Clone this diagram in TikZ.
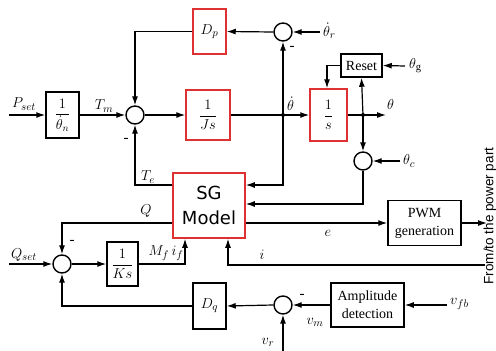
\documentclass[tikz,border=0pt]{standalone}
\usepackage{fontspec}
\setmainfont{Liberation Serif}
\newfontfamily\sgfont{DejaVu Sans}
\newfontfamily\lsans{Liberation Sans}
\usetikzlibrary{arrows.meta,calc}
\definecolor{sgred}{RGB}{222,50,50}
\begin{document}
\begin{tikzpicture}[x=1pt,y=-1pt,
  txt/.style={font=\fontsize{14}{18}\selectfont},
  lbl/.style={font=\fontsize{15}{18}\selectfont, inner sep=0pt},
  blk/.style n args={2}{draw, line width=1.5pt, minimum width=#1pt, minimum height=#2pt, inner sep=0pt, txt, align=center},
  redblk/.style n args={2}{blk={#1}{#2}, draw=sgred},
  sum/.style={circle, draw, line width=1.4pt, minimum size=18pt, inner sep=0pt},
  arr/.style={-{Latex[length=9pt,width=6pt]}, line width=1.2pt},
  jdot/.style={circle, fill, inner sep=0pt, minimum size=4pt}]
\useasboundingbox (0,0) rectangle (496,351);
% blocks
\node[blk={33}{46}] (thn) at (62.5,115) {$\displaystyle\frac{1}{\dot\theta_n}$};
\node[sum] (s1) at (135,115) {};
\node[redblk={33}{45}, font=\fontsize{15}{18}\selectfont] (Dp) at (209.5,31.5) {$D_p$};
\node[redblk={44}{50}] (Js) at (208,115) {$\displaystyle\frac{1}{Js}$};
\node[sum] (s2) at (283,32) {};
\node[redblk={37}{52}] (S) at (328.5,115) {$\displaystyle\frac{1}{s}$};
\node[blk={41}{23}] (reset) at (361.5,65.5) {Reset};
\node[sum] (s3) at (363,161) {};
\node[redblk={72}{65}, font=\sgfont\fontsize{18}{25}\selectfont] (SG) at (209,205.5) {SG\\Model};
\node[blk={73}{45}] (pwm) at (424.5,223) {PWM\\generation};
\node[sum] (s4) at (62,264) {};
\node[blk={31}{44}] (Ks) at (122.5,264) {$\displaystyle\frac{1}{Ks}$};
\node[blk={33}{46}, font=\fontsize{15}{18}\selectfont] (Dq) at (209.5,306) {$D_q$};
\node[sum] (s5) at (283,305) {};
\node[blk={73}{44}] (amp) at (367.5,305) {Amplitude\\detection};
% junctions and free ends
\node[jdot] (j1) at (283,115) {};
\node[jdot] (j2) at (363,115) {};
\coordinate (psetin) at (9,115);
\coordinate (thout) at (386,115);
\coordinate (thgin) at (405,66);
\coordinate (thcin) at (400,161);
\coordinate (thrin) at (320,32);
\coordinate (qsetin) at (9,264);
\coordinate (iin) at (485,265);
\coordinate (pwmout) at (487,223);
\coordinate (vfbin) at (447,305);
\coordinate (vrin) at (283,351);
% connectors
\draw[arr] (psetin) -- (thn.west);
\draw[arr] (thn.east) -- (s1.west);
\draw[arr] (s1.east) -- (Js.west);
\draw[arr] (Js.east) -- (S.west);
\draw[arr] (S.east) -- (thout);
\draw[arr] (j2.center) -- (reset.south);
\draw[arr] (j2.center) -- (s3.north);
\draw[arr] (thgin) -- (reset.east);
\draw[arr] (reset.west) -| ([xshift=-1.5pt]S.north);
\draw[arr] (thcin) -- (s3.east);
\draw[arr] (s3.south) |- ([yshift=1.5pt]SG.east);
\draw[arr] (j1.center) -- (s2.south);
\draw[arr] (j1.center) |- ([yshift=20.5pt]SG.east);
\draw[arr] (thrin) -- (s2.east);
\draw[arr] (s2.west) -- (Dp.east);
\draw[arr] (Dp.west) -| (s1.north);
\draw[arr] ([yshift=20.5pt]SG.west) -| (s1.south);
\draw[arr] ([yshift=-17.5pt]SG.west) -| (s4.north);
\draw[arr] (qsetin) -- (s4.west);
\draw[arr] (s4.east) -- (Ks.west);
\draw[arr] (Ks.east) -| ([xshift=-24pt]SG.south);
\draw[arr] (iin) -| ([xshift=19pt]SG.south);
\draw[arr] ([yshift=-17.5pt]SG.east) -- (pwm.west);
\draw[arr] (pwm.east) -- (pwmout);
\draw[arr] (vfbin) -- (amp.east);
\draw[arr] (amp.west) -- (s5.east);
\draw[arr] (vrin) -- (s5.south);
\draw[arr] (s5.west) -- (Dq.east);
\draw[arr] (Dq.west) -| (s4.south);
% labels
\node[lbl] at (24,104) {$P_{set}$};
\node[lbl] at (104,106) {$T_m$};
\node[lbl] at (126,140) {-};
\node[lbl] at (292,48) {-};
\node[lbl, anchor=west] at (323,31) {$\dot\theta_r$};
\node[lbl, anchor=west] at (287,104) {$\dot\theta$};
\node[lbl, anchor=west] at (387,104) {$\theta$};
\node[lbl, anchor=west] at (409,66) {$\theta_{\mathrm{g}}$};
\node[lbl, anchor=west] at (403,161) {$\theta_c$};
\node[lbl] at (148,177) {$T_e$};
\node[lbl] at (146,211) {$Q$};
\node[lbl] at (72,242) {-};
\node[lbl] at (24,255) {$Q_{set}$};
\node[lbl] at (166,253) {$M_f\, i_f$};
\node[lbl] at (262,255) {$i$};
\node[lbl] at (328,233) {$e$};
\node[lbl] at (302,296) {-};
\node[lbl] at (315,322) {$v_m$};
\node[lbl] at (268,342) {$v_r$};
\node[lbl, anchor=west] at (450,304) {$v_{fb}$};
\node[inner sep=0pt, rotate=90, font=\lsans\fontsize{13.5}{16}\selectfont] (pp) at (490,216) {From/to the power part};
\end{tikzpicture}
\end{document}
